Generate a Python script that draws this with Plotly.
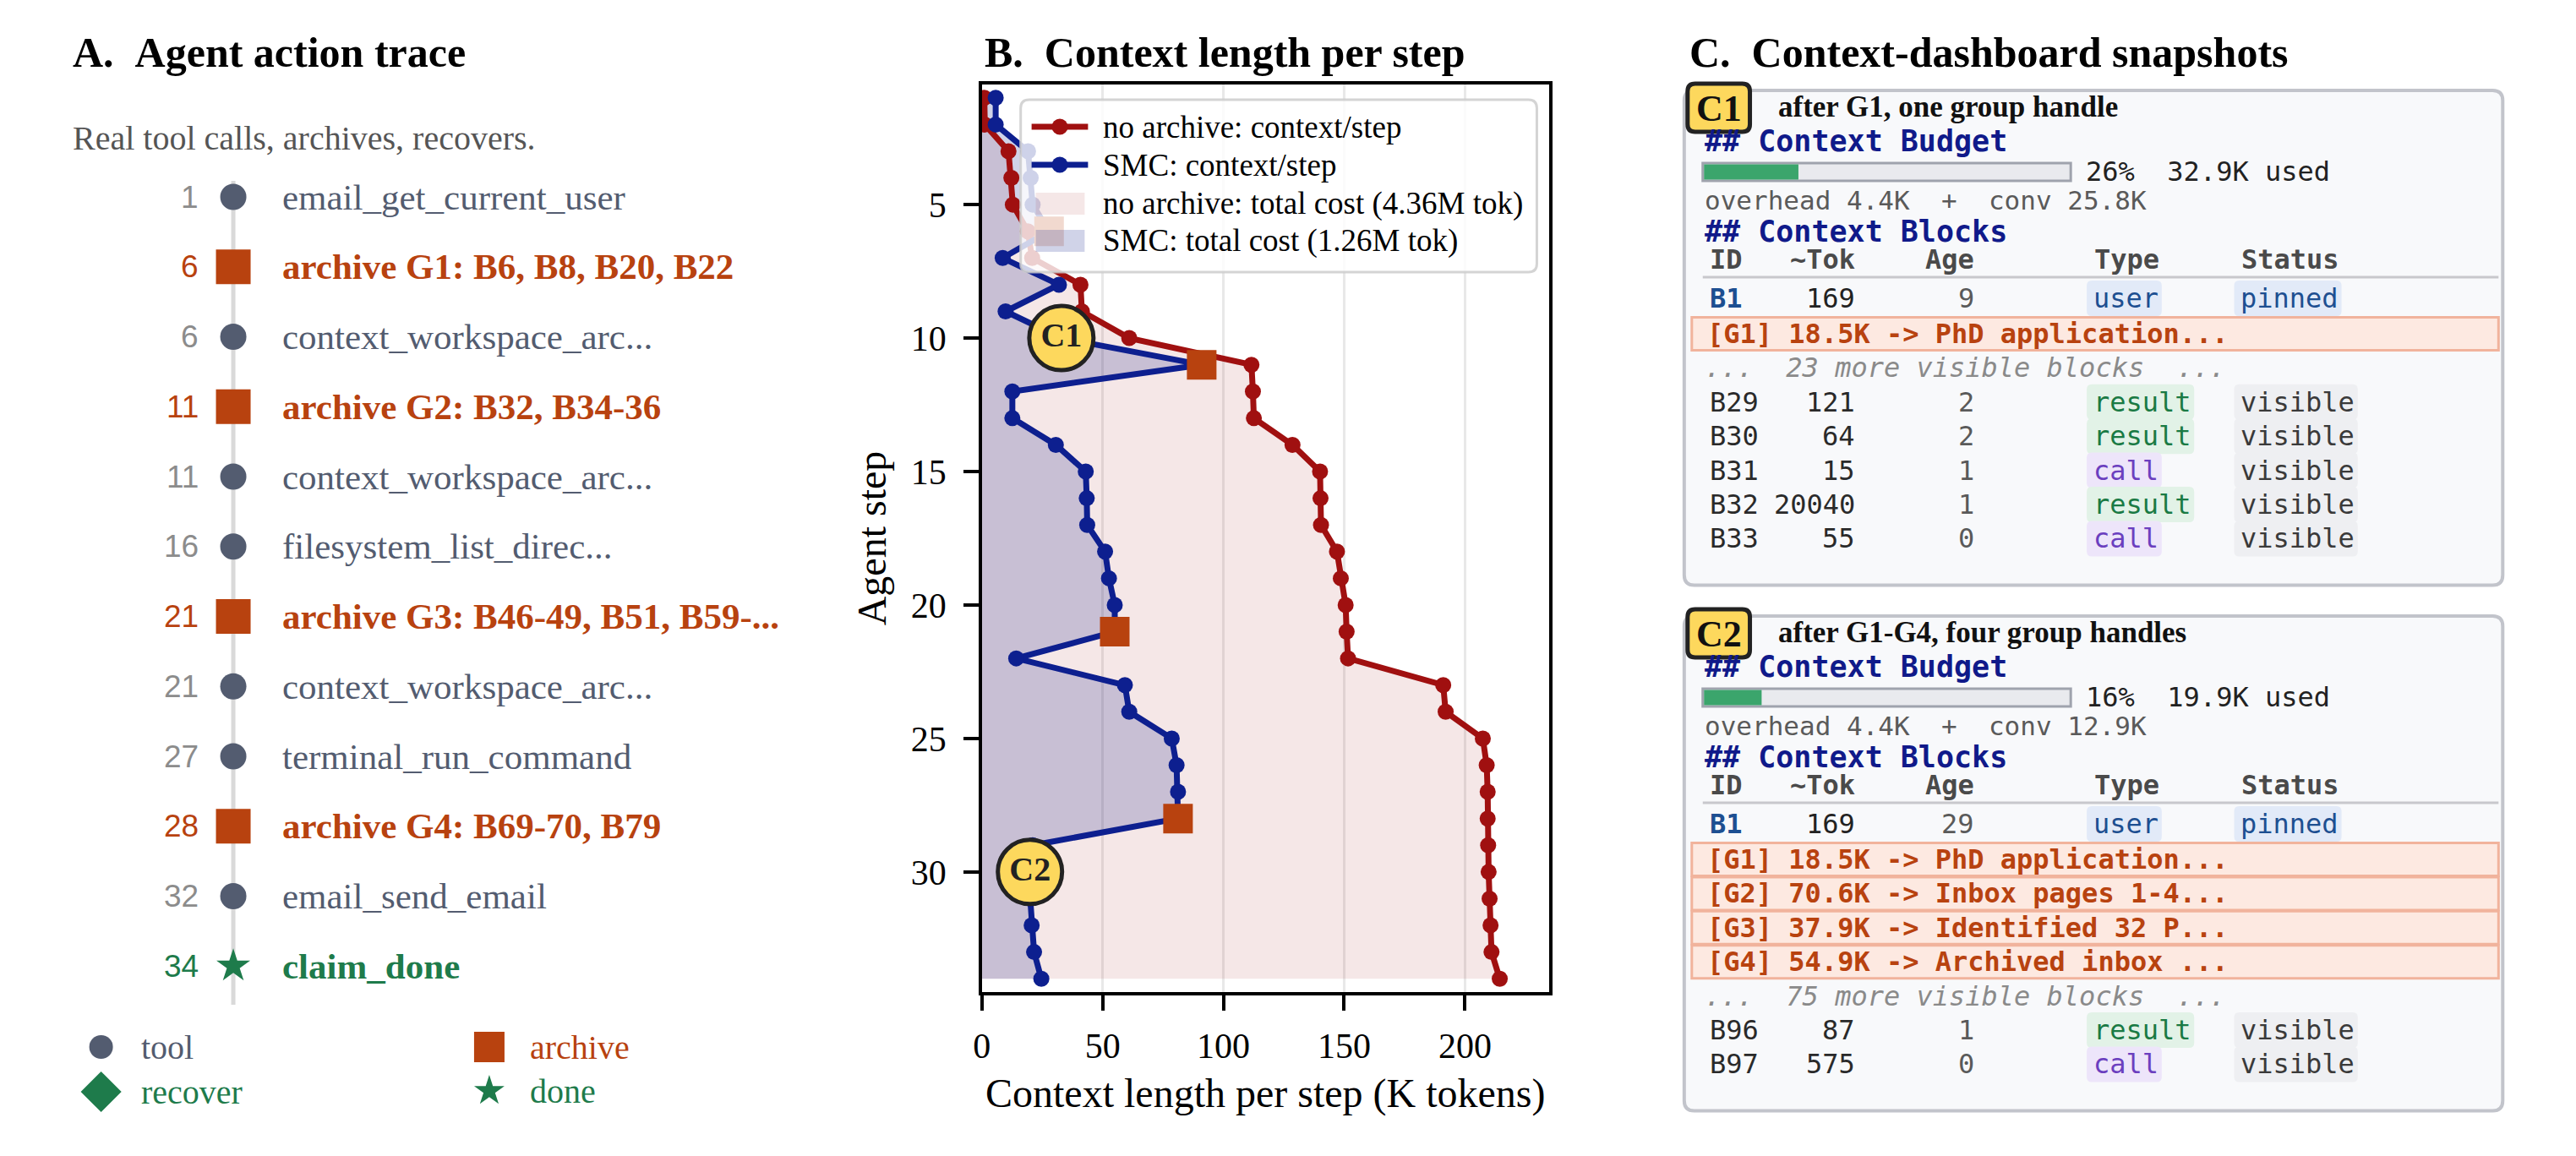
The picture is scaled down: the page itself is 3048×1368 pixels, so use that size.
import plotly.graph_objects as go

W, H = 3048, 1368
SERIF = "Liberation Serif"
SANS = "Liberation Sans"
MONO = "DejaVu Sans Mono"
NB = "\u00a0"

# ---------------- Panel B data ----------------
steps = list(range(1, 35))
ctx_no_archive = [1.0, 1.2, 11.0, 12.2, 12.8, 19.0, 20.8, 40.8, 41.4, 61.0,
                  111.6, 112.2, 112.6, 128.6, 140.0, 140.2, 140.4, 147.0, 148.6, 150.6,
                  151.0, 151.6, 191.0, 192.0, 207.4, 209.0, 209.4, 209.4, 209.6, 209.8,
                  210.2, 210.6, 211.0, 214.4]
ctx_smc = [5.7, 5.7, 19.1, 20.2, 21.0, 27.8, 8.6, 31.9, 9.8, 32.9,
           91.0, 12.6, 12.6, 30.6, 43.0, 43.4, 43.6, 51.0, 52.6, 55.0,
           55.0, 14.2, 59.2, 61.0, 78.6, 80.6, 81.2, 81.2, 21.0, 19.9,
           20.0, 20.6, 21.6, 24.6]
archive_steps = [6, 11, 21, 28]
snapshot_steps = [10, 30]
snapshot_names = ["C1", "C2"]
total_no_archive = "4.36M"
total_smc = "1.26M"
x_ticks = [0, 50, 100, 150, 200]
y_ticks = [5, 10, 15, 20, 25, 30]

# ---------------- Panel A data ----------------
trace_steps = [1, 6, 6, 11, 11, 16, 21, 21, 27, 28, 32, 34]
trace_kinds = ["tool", "archive", "tool", "archive", "tool", "tool",
               "archive", "tool", "tool", "archive", "tool", "done"]
trace_labels = ["email_get_current_user", "archive G1: B6, B8, B20, B22",
                "context_workspace_arc...", "archive G2: B32, B34-36",
                "context_workspace_arc...", "filesystem_list_direc...",
                "archive G3: B46-49, B51, B59-...", "context_workspace_arc...",
                "terminal_run_command", "archive G4: B69-70, B79",
                "email_send_email", "claim_done"]
legend_kinds = ["tool", "archive", "recover", "done"]

# ---------------- Panel C data ----------------
snap_titles = ["after G1, one group handle", "after G1-G4, four group handles"]
snap_pct = [26, 16]
snap_used = ["32.9K", "19.9K"]
snap_overhead = ["4.4K", "4.4K"]
snap_conv = ["25.8K", "12.9K"]
pinned_id, pinned_tok, pinned_type, pinned_status = "B1", 169, "user", "pinned"
snap_pinned_age = [9, 29]
snap_groups = [["[G1] 18.5K -> PhD application..."],
               ["[G1] 18.5K -> PhD application...", "[G2] 70.6K -> Inbox pages 1-4...",
                "[G3] 37.9K -> Identified 32 P...", "[G4] 54.9K -> Archived inbox ..."]]
snap_hidden = [23, 75]
c1_ids = ["B29", "B30", "B31", "B32", "B33"]
c1_tok = [121, 64, 15, 20040, 55]
c1_age = [2, 2, 1, 1, 0]
c1_type = ["result", "result", "call", "result", "call"]
c2_ids = ["B96", "B97"]
c2_tok = [87, 575]
c2_age = [1, 0]
c2_type = ["result", "call"]
block_status = "visible"
table_header = ["ID", "~Tok", "Age", "Type", "Status"]

# ---------------- styles ----------------
RED = "#a01010"
BLUE = "#0d1f8f"
ORANGE = "#b8420f"
GREEN = "#1e7b4b"
SLATE = "#535c70"
RED_FILL = "rgba(160,16,16,0.10)"
BLUE_FILL = "rgba(20,35,140,0.20)"
KIND_COLOR = {"tool": SLATE, "archive": ORANGE, "recover": GREEN, "done": GREEN}
NUM_COLOR = {"tool": "#8c8c8c", "archive": ORANGE, "recover": GREEN, "done": GREEN}
SYMBOL = {"tool": "circle", "archive": "square", "recover": "diamond", "done": "star"}
MSIZE = {"tool": 31, "archive": 41, "recover": 37, "done": 30}
CHIP = {"user": ("#e2eaf8", "#1d4f91"), "pinned": ("#e2eaf8", "#1d4f91"),
        "result": ("#e2f2e7", "#1a7a44"), "call": ("#ede5fa", "#6b3fbf"),
        "visible": ("#eeeff2", "#3a3a3a")}
DXA, DXB, DXC = -12, -6, -5

fig = go.Figure()
ann = []
shapes = []


def txt(x, y, s, size, color, family=SERIF, anchor="left", bold=False, italic=False, angle=0):
    if family == MONO:
        s = s.replace(" ", NB)
    if bold:
        s = f"<b>{s}</b>"
    if italic:
        s = f"<i>{s}</i>"
    ann.append(dict(x=x, y=y, xref="x2", yref="y2", text=s, showarrow=False,
                    xanchor=anchor, yanchor="middle", textangle=angle,
                    font=dict(family=family, size=size, color=color)))


def rrect(x0, y0, x1, y1, r, fill, line, lw):
    p = (f"M{x0+r},{y0} L{x1-r},{y0} Q{x1},{y0} {x1},{y0+r} L{x1},{y1-r} Q{x1},{y1} {x1-r},{y1} "
         f"L{x0+r},{y1} Q{x0},{y1} {x0},{y1-r} L{x0},{y0+r} Q{x0},{y0} {x0+r},{y0} Z")
    shapes.append(dict(type="path", path=p, xref="x2", yref="y2", fillcolor=fill,
                       line=dict(color=line, width=lw), layer="below"))


# ================= Panel B =================
fig.add_trace(go.Scatter(x=ctx_no_archive, y=steps, mode="lines", fill="tozerox",
                         fillcolor=RED_FILL, line=dict(width=0, color="rgba(0,0,0,0)"),
                         showlegend=False, hoverinfo="skip"))
fig.add_trace(go.Scatter(x=ctx_smc, y=steps, mode="lines", fill="tozerox",
                         fillcolor=BLUE_FILL, line=dict(width=0, color="rgba(0,0,0,0)"),
                         showlegend=False, hoverinfo="skip"))
fig.add_trace(go.Scatter(x=ctx_no_archive, y=steps, mode="lines+markers",
                         line=dict(color=RED, width=7), marker=dict(size=19, color=RED),
                         showlegend=False))
fig.add_trace(go.Scatter(x=ctx_smc, y=steps, mode="lines+markers",
                         line=dict(color=BLUE, width=7), marker=dict(size=19, color=BLUE),
                         showlegend=False))
fig.add_trace(go.Scatter(x=[ctx_smc[s - 1] for s in archive_steps], y=archive_steps, mode="markers",
                         marker=dict(symbol="square", size=35, color=ORANGE), showlegend=False))
fig.add_trace(go.Scatter(x=[ctx_smc[s - 1] for s in snapshot_steps], y=snapshot_steps,
                         mode="markers+text", text=[f"<b>{n}</b>" for n in snapshot_names],
                         textposition="middle center",
                         textfont=dict(family=SERIF, size=40, color="#222222"),
                         marker=dict(symbol="circle", size=76, color="#fdd85d",
                                     line=dict(color="#222222", width=5)),
                         showlegend=False))

# manual legend (drawn on the overlay canvas, above panel B)
legend_items = [("line", RED, "no archive: context/step"),
                ("line", BLUE, "SMC: context/step"),
                ("patch", RED_FILL, f"no archive: total cost ({total_no_archive} tok)"),
                ("patch", BLUE_FILL, f"SMC: total cost ({total_smc} tok)")]
lx0 = 1207 + DXB
rrect(lx0, 118, 1820 + DXB, 322, 10, "rgba(255,255,255,0.8)", "rgba(204,204,204,0.85)", 3)
leg_rows = [150, 195, 241, 285]
dot_x, dot_y, dot_c = [], [], []
for (kind, col, name), y in zip(legend_items, leg_rows):
    if kind == "line":
        shapes.append(dict(type="line", xref="x2", yref="y2", x0=lx0 + 13, x1=lx0 + 80, y0=y, y1=y,
                           line=dict(color=col, width=7), layer="below"))
        dot_x.append(lx0 + 46.5)
        dot_y.append(y)
        dot_c.append(col)
    else:
        shapes.append(dict(type="rect", xref="x2", yref="y2", x0=lx0 + 18, x1=lx0 + 76,
                           y0=y - 13, y1=y + 13, fillcolor=col, line=dict(width=0), layer="below"))
    txt(lx0 + 96, y, name, 37, "black")
fig.add_trace(go.Scatter(x=dot_x, y=dot_y, mode="markers", xaxis="x2", yaxis="y2", showlegend=False,
                         marker=dict(size=19, color=dot_c, line=dict(width=0))))

# axis titles
txt(1498 + DXB, 1294, "Context length per step (K tokens)", 48, "black", anchor="center")
txt(1030 + DXB, 637, "Agent step", 48, "black", anchor="center", angle=-90)

# ================= Titles =================
txt(85 + DXA, 62, f"A.{NB}{NB}Agent action trace", 50, "black", bold=True)
txt(1162 + DXB, 62, f"B.{NB}{NB}Context length per step", 50, "black", bold=True)
txt(1998 + DXC, 62, f"C.{NB}{NB}Context-dashboard snapshots", 50, "black", bold=True)

# ================= Panel A =================
txt(85 + DXA, 163, "Real tool calls, archives, recovers.", 40, "#555555")

row_y0, row_dy = 233, 82.75
mx = 278 + DXA
shapes.append(dict(type="line", xref="x2", yref="y2", x0=mx, x1=mx, y0=214, y1=1189,
                   line=dict(color="#d9d9d9", width=5), layer="below"))
row_y = [row_y0 + i * row_dy for i in range(len(trace_steps))]
for kind in ["tool", "archive", "done"]:
    idx = [i for i, k in enumerate(trace_kinds) if k == kind]
    fig.add_trace(go.Scatter(x=[mx] * len(idx), y=[row_y[i] for i in idx], mode="markers",
                             xaxis="x2", yaxis="y2", showlegend=False,
                             marker=dict(symbol=SYMBOL[kind], size=MSIZE[kind], color=KIND_COLOR[kind],
                                         line=dict(width=0))))
for i, (s, k, lab) in enumerate(zip(trace_steps, trace_kinds, trace_labels)):
    txt(239 + DXA, row_y[i], str(s), 37, NUM_COLOR[k], family=SANS, anchor="right")
    txt(334 + DXA, row_y[i], lab, 43, KIND_COLOR[k], bold=(k != "tool"))

leg_pos = {"tool": (121, 1239), "archive": (582, 1239), "recover": (121, 1292), "done": (582, 1291)}
leg_size = {"tool": 28, "archive": 36, "recover": 37, "done": 27}
for k in legend_kinds:
    x, y = leg_pos[k]
    x += DXA
    fig.add_trace(go.Scatter(x=[x], y=[y], mode="markers", xaxis="x2", yaxis="y2", showlegend=False,
                             marker=dict(symbol=SYMBOL[k], size=leg_size[k], color=KIND_COLOR[k],
                                         line=dict(width=0))))
    txt(x + 46, y, k, 40, KIND_COLOR[k])

# ================= Panel C =================
CW = 0.602 * 32
X_ID, X_TOK, X_AGE, X_TYPE, X_STAT = (2022 + DXC, 2199 + DXC, 2340 + DXC, 2478 + DXC, 2653 + DXC)
BOX_R = 2961          # right edge of the snapshot cards
INNER_R = 2956        # right edge of header rule and group rows


def chip(xl, y, word):
    bg, fg = CHIP[word]
    rrect(xl - 6, y - 21, xl + len(word) * CW + 6, y + 21, 6, bg, bg, 0)
    txt(xl, y, word, 32, fg, family=MONO)


def dashboard(k, base, ids, toks, ages, types):
    d = DXC
    groups = snap_groups[k]
    row_pitch = 40.4
    n_rows = len(groups) + 1 + len(ids)
    last_y = base + 288 + (n_rows - 1) * row_pitch
    rrect(1994 + d, base, BOX_R, last_y + 55, 12, "#f8f9fb", "#c2c4cb", 4)
    rrect(1998 + d, base - 8, 2072 + d, base + 49, 9, "#fdd85d", "#222222", 5)
    txt(2035 + d, base + 21, snapshot_names[k], 44, "#111111", anchor="center", bold=True)
    txt(2104 + d, base + 19, snap_titles[k], 35, "#111111", bold=True)
    txt(2016 + d, base + 60, "## Context Budget", 35, "#101a8a", family=MONO, bold=True)
    bx0, bx1 = 2016 + d, 2453 + d
    shapes.append(dict(type="rect", xref="x2", yref="y2", x0=bx0, x1=bx1, y0=base + 86, y1=base + 107,
                       fillcolor="#e9eaee", line=dict(color="#9fa3ad", width=3), layer="below"))
    shapes.append(dict(type="rect", xref="x2", yref="y2", x0=bx0 + 1.5,
                       x1=bx0 + (bx1 - bx0) * snap_pct[k] / 100, y0=base + 87.5, y1=base + 105.5,
                       fillcolor="#3ba56c", line=dict(width=0), layer="below"))
    txt(2469 + d, base + 96, f"{snap_pct[k]}%  {snap_used[k]} used", 32, "#222222", family=MONO)
    txt(2016 + d, base + 130, f"overhead {snap_overhead[k]}  +  conv {snap_conv[k]}", 31, "#5a5a5a",
        family=MONO)
    txt(2016 + d, base + 167, "## Context Blocks", 35, "#101a8a", family=MONO, bold=True)
    hy = base + 200
    txt(X_ID, hy, table_header[0], 32, "#4a4a4a", family=MONO, bold=True)
    txt(X_TOK, hy, table_header[1], 32, "#4a4a4a", family=MONO, bold=True, anchor="right")
    txt(X_AGE, hy, table_header[2], 32, "#4a4a4a", family=MONO, bold=True, anchor="right")
    txt(X_TYPE + 1, hy, table_header[3], 32, "#4a4a4a", family=MONO, bold=True)
    txt(X_STAT + 1, hy, table_header[4], 32, "#4a4a4a", family=MONO, bold=True)
    shapes.append(dict(type="line", xref="x2", yref="y2", x0=2016 + d, x1=INNER_R,
                       y0=base + 221, y1=base + 221,
                       line=dict(color="#c8c8cc", width=3), layer="below"))
    py = base + 246
    chip(X_TYPE, py, pinned_type)
    chip(X_STAT, py, pinned_status)
    txt(X_ID, py, pinned_id, 32, "#1d4f91", family=MONO, bold=True)
    txt(X_TOK, py, str(pinned_tok), 32, "#222222", family=MONO, anchor="right")
    txt(X_AGE, py, str(snap_pinned_age[k]), 32, "#5a5a5a", family=MONO, anchor="right")
    y = base + 288
    for g in groups:
        shapes.append(dict(type="rect", xref="x2", yref="y2", x0=2003 + d, x1=INNER_R,
                           y0=y - 19.5, y1=y + 19.5,
                           fillcolor="#fde9e1", line=dict(color="#f1b39c", width=3), layer="below"))
        txt(2019 + d, y, g, 32, ORANGE, family=MONO, bold=True)
        y += row_pitch
    txt(2016 + d, y, f"...  {snap_hidden[k]} more visible blocks  ...", 32, "#8a8a8a", family=MONO,
        italic=True)
    y += row_pitch
    for bid, tok, age, typ in zip(ids, toks, ages, types):
        chip(X_TYPE, y, typ)
        chip(X_STAT, y, block_status)
        txt(X_ID, y, bid, 32, "#2a2a2a", family=MONO)
        txt(X_TOK, y, str(tok), 32, "#2a2a2a", family=MONO, anchor="right")
        txt(X_AGE, y, str(age), 32, "#5a5a5a", family=MONO, anchor="right")
        y += row_pitch


dashboard(0, 107, c1_ids, c1_tok, c1_age, c1_type)
dashboard(1, 729, c2_ids, c2_tok, c2_age, c2_type)

# ================= layout =================
fig.update_layout(
    width=W, height=H, autosize=False,
    margin=dict(l=0, r=0, t=0, b=0, pad=0),
    paper_bgcolor="white", plot_bgcolor="rgba(0,0,0,0)",
    font=dict(family=SERIF, color="black"),
    showlegend=False,
    xaxis=dict(domain=[(1161 + DXB) / W, (1835 + DXB) / W], range=[0, 235], anchor="y",
               tickvals=x_ticks, ticks="outside", ticklen=18, tickwidth=3.5, tickcolor="black",
               tickfont=dict(family=SERIF, size=42, color="black"),
               showline=True, linecolor="black", linewidth=3.5, mirror=True,
               showgrid=True, gridcolor="#e8e8e8", gridwidth=2.5, zeroline=False,
               ticklabelstandoff=6),
    yaxis=dict(domain=[1 - 1174 / H, 1 - 100 / H], range=[34.5, 0.5], anchor="x",
               tickvals=y_ticks, ticks="outside", ticklen=18, tickwidth=3.5, tickcolor="black",
               tickfont=dict(family=SERIF, size=42, color="black"),
               showline=True, linecolor="black", linewidth=3.5, mirror=True,
               showgrid=False, zeroline=False, ticklabelstandoff=12),
    xaxis2=dict(domain=[0, 1], range=[0, W], anchor="y2", visible=False, fixedrange=True),
    yaxis2=dict(domain=[0, 1], range=[H, 0], anchor="x2", visible=False, fixedrange=True),
    annotations=ann,
    shapes=shapes,
)

fig.write_html("out.html", config={"displayModeBar": False})
